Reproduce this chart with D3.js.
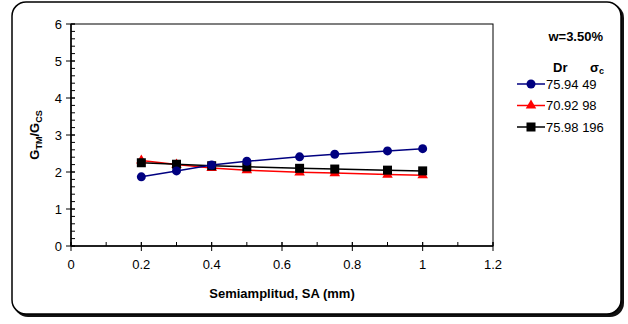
<!DOCTYPE html>
<html><head><meta charset="utf-8">
<script src="https://cdn.jsdelivr.net/npm/d3@7"></script>
<style>body{margin:0;background:#fff;}svg{display:block;font-family:"Liberation Sans",Arial,sans-serif;}</style>
</head><body>
<svg id="c" width="628" height="324"></svg>
<script>
const xValues = [0.2, 0.3, 0.4, 0.5, 0.65, 0.75, 0.9, 1.0];
const seriesBlue = [1.87, 2.03, 2.19, 2.29, 2.41, 2.48, 2.57, 2.63];
const seriesRed = [2.31, 2.20, 2.11, 2.05, 1.99, 1.97, 1.93, 1.91];
const seriesBlack = [2.25, 2.21, 2.17, 2.14, 2.10, 2.08, 2.05, 2.03];
const seriesDr = ["75.94", "70.92", "75.98"];
const seriesSigma = ["49", "98", "196"];
const xTicks = [0, 0.2, 0.4, 0.6, 0.8, 1, 1.2];
const yTicks = [0, 1, 2, 3, 4, 5, 6];

const svg = d3.select("#c");
// outer frame with shadow
svg.append("rect").attr("x",14).attr("y",4).attr("width",610).attr("height",313).attr("rx",14).attr("fill","#111");
svg.append("rect").attr("x",12).attr("y",2).attr("width",609).attr("height",312).attr("rx",14).attr("fill","#fff").attr("stroke","#000").attr("stroke-width",1.5);

const x = d3.scaleLinear().domain([0,1.2]).range([71,493]);
const y = d3.scaleLinear().domain([0,6]).range([246,24]);

// plot frame
svg.append("rect").attr("x",x(0)).attr("y",y(6)).attr("width",x(1.2)-x(0)).attr("height",y(0)-y(6)).attr("fill","none").attr("stroke","#000").attr("stroke-width",1);

// Y axis
const yMinor = d3.range(0,6.001,0.2);
svg.append("g").selectAll("line").data(yMinor).join("line")
  .attr("x1",x(0)).attr("x2",x(0)+4).attr("y1",d=>y(d)).attr("y2",d=>y(d)).attr("stroke","#000");
svg.append("g").selectAll("line").data(yTicks).join("line")
  .attr("x1",x(0)-5).attr("x2",x(0)+4).attr("y1",d=>y(d)).attr("y2",d=>y(d)).attr("stroke","#000");
svg.append("line").attr("x1",x(0)).attr("x2",x(0)).attr("y1",y(0)).attr("y2",y(6)).attr("stroke","#000").attr("stroke-width",1.5);
svg.append("g").selectAll("text").data(yTicks).join("text")
  .attr("x",x(0)-9).attr("y",d=>y(d)+4.5).attr("text-anchor","end").attr("font-size",13).text(d=>d);

// X axis
const xMinor = d3.range(0,1.2001,0.1);
svg.append("g").selectAll("line").data(xMinor).join("line")
  .attr("x1",d=>x(d)).attr("x2",d=>x(d)).attr("y1",y(0)).attr("y2",y(0)-4).attr("stroke","#000");
svg.append("g").selectAll("line").data(xTicks).join("line")
  .attr("x1",d=>x(d)).attr("x2",d=>x(d)).attr("y1",y(0)-4).attr("y2",y(0)+5).attr("stroke","#000");
svg.append("line").attr("x1",x(0)).attr("x2",x(1.2)).attr("y1",y(0)).attr("y2",y(0)).attr("stroke","#000").attr("stroke-width",1.5);
svg.append("g").selectAll("text").data(xTicks).join("text")
  .attr("x",d=>x(d)).attr("y",y(0)+23).attr("text-anchor","middle").attr("font-size",13).text(d=>d);

// titles
svg.append("text").attr("x",282).attr("y",298).attr("text-anchor","middle").attr("font-size",13).attr("font-weight","bold").text("Semiamplitud, SA (mm)");
const yt = svg.append("text").attr("transform","translate(39,135) rotate(-90)").attr("text-anchor","middle").attr("font-size",13).attr("font-weight","bold");
yt.append("tspan").text("G");
yt.append("tspan").attr("font-size",9).attr("dy",3).text("TM");
yt.append("tspan").attr("dy",-3).text("/G");
yt.append("tspan").attr("font-size",9).attr("dy",3).text("CS");

const series = [
  {vals: seriesBlue, color:"#000080", shape:"circle"},
  {vals: seriesRed, color:"#ff0000", shape:"triangle"},
  {vals: seriesBlack, color:"#000000", shape:"square"}
];
const line = d3.line().x((d,i)=>x(xValues[i])).y(d=>y(d));
function marker(g, s, cx, cy){
  if(s.shape==="circle") g.append("circle").attr("cx",cx).attr("cy",cy).attr("r",4.5).attr("fill",s.color);
  else if(s.shape==="triangle") g.append("path").attr("d",d3.symbol(d3.symbolTriangle,48)()).attr("transform",`translate(${cx},${cy})`).attr("fill",s.color);
  else g.append("rect").attr("x",cx-4.5).attr("y",cy-4.5).attr("width",9).attr("height",9).attr("fill",s.color);
}
const drawOrder = [1,2,0];
drawOrder.forEach(k=>{
  const s = series[k];
  svg.append("path").datum(s.vals).attr("d",line).attr("fill","none").attr("stroke",s.color).attr("stroke-width",1.5);
});
drawOrder.forEach(k=>{
  const s = series[k];
  const g = svg.append("g");
  s.vals.forEach((v,i)=>marker(g,s,x(xValues[i]),y(v)));
});

// legend
svg.append("text").attr("x",603).attr("y",41).attr("text-anchor","end").attr("font-size",13).attr("font-weight","bold").text("w=3.50%");
svg.append("text").attr("x",553).attr("y",72).attr("font-size",13).attr("font-weight","bold").text("Dr");
const sg = svg.append("text").attr("x",590).attr("y",72).attr("font-size",13).attr("font-weight","bold");
sg.append("tspan").text("σ");
sg.append("tspan").attr("font-size",9).attr("dy",2).text("c");
series.forEach((s,i)=>{
  const ly = 84 + i*21.5;
  svg.append("line").attr("x1",517).attr("x2",545).attr("y1",ly).attr("y2",ly).attr("stroke",s.color).attr("stroke-width",1.5);
  marker(svg,s,531,ly);
  svg.append("text").attr("x",546).attr("y",ly+4.5).attr("font-size",13).text(seriesDr[i]+" "+seriesSigma[i]);
});
</script>
</body></html>
